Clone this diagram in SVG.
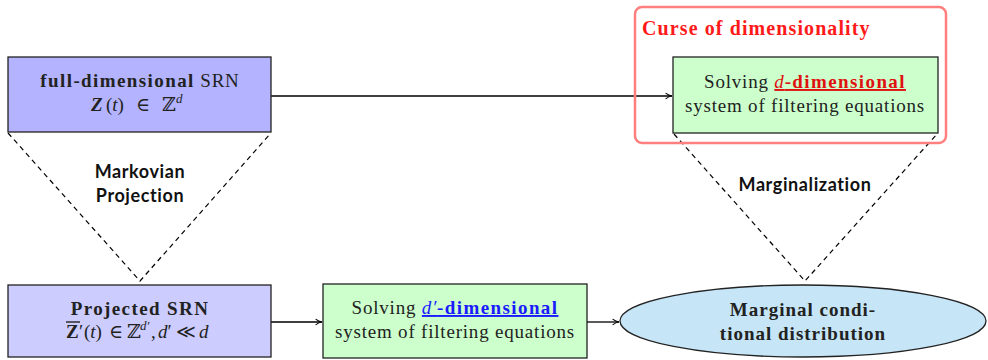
<svg xmlns="http://www.w3.org/2000/svg" width="988" height="360" viewBox="0 0 988 360">
<defs>
<marker id="arr" viewBox="0 0 10 10" refX="9" refY="5" markerWidth="8" markerHeight="8" orient="auto" markerUnits="userSpaceOnUse">
<path d="M1,1.5 Q5,4.5 9,5 Q5,5.5 1,8.5" fill="none" stroke="#000" stroke-width="1.3"/>
</marker>
<style>
.box{stroke:#222;stroke-width:1.3}
.serif{font-family:"Liberation Serif","DejaVu Serif",serif;font-size:19px;fill:#222;letter-spacing:0.8px}
.b{font-weight:bold;letter-spacing:1.4px}
.sans{font-family:Lato,"Open Sans",sans-serif;font-weight:bold;font-size:18px;fill:#111;letter-spacing:0.6px}
.dash{stroke:#000;stroke-width:1.2;stroke-dasharray:5,4;fill:none}
.conn{stroke:#000;stroke-width:1.3;fill:none}
.m{letter-spacing:0}
</style>
</defs>

<g id="connectors">
<line class="conn" x1="271" y1="96" x2="672" y2="96" marker-end="url(#arr)"/>
<line class="conn" x1="271" y1="322" x2="322" y2="322" marker-end="url(#arr)"/>
<line class="conn" x1="587" y1="322" x2="619" y2="322" marker-end="url(#arr)"/>
<polyline class="dash" points="8,133 140,281 271,133"/>
<polyline class="dash" points="674,134 805,281 937,134"/>
</g>

<g id="curse">
<rect x="635" y="7" width="311" height="136" rx="7" fill="none" stroke="#ff7f7f" stroke-width="2.5"/>
<text x="642" y="35" class="serif b" style="fill:#ff1a1a;font-size:20px;letter-spacing:1.1px">Curse of dimensionality</text>
</g>

<g id="full">
<rect class="box" x="8" y="57" width="263" height="75" fill="#b3b3ff"/>
<text x="140" y="87" class="serif" text-anchor="middle"><tspan class="b">full-dimensional</tspan> SRN</text>
<text y="111" class="serif m"><tspan x="91" font-weight="bold" font-style="italic">Z</tspan><tspan x="106">(</tspan><tspan font-style="italic">t</tspan><tspan>)</tspan><tspan x="136">∈</tspan><tspan x="162">ℤ</tspan><tspan x="176" font-size="13" dy="-8" font-style="italic">d</tspan></text>
</g>

<g id="projected">
<rect class="box" x="8" y="285" width="263" height="72" fill="#ccccff"/>
<text x="140" y="315" class="serif b" text-anchor="middle">Projected SRN</text>
<line x1="66" y1="322" x2="80" y2="322" stroke="#222" stroke-width="1.4"/>
<text y="338" class="serif m"><tspan x="66" font-weight="bold">Z</tspan><tspan x="79">′</tspan><tspan x="84">(</tspan><tspan font-style="italic">t</tspan><tspan>)</tspan><tspan x="109">∈</tspan><tspan x="127">ℤ</tspan><tspan x="140" font-size="13" dy="-8" font-style="italic">d′</tspan><tspan x="151" dy="8">,</tspan><tspan x="158" font-style="italic">d</tspan><tspan>′</tspan><tspan x="176">≪</tspan><tspan x="199" font-style="italic">d</tspan></text>
</g>

<g id="solve-d">
<rect class="box" x="673" y="57" width="265" height="76" fill="#ccffcc"/>
<text x="805" y="88" class="serif" text-anchor="middle">Solving <tspan fill="#e01010" text-decoration="underline"><tspan font-style="italic">d</tspan><tspan class="b">-dimensional</tspan></tspan></text>
<text x="805" y="112" class="serif" text-anchor="middle">system of filtering equations</text>
</g>

<g id="solve-dprime">
<rect class="box" x="323" y="284" width="264" height="74" fill="#ccffcc"/>
<text x="455" y="314" class="serif" text-anchor="middle">Solving <tspan fill="#1a1aff" text-decoration="underline"><tspan font-style="italic">d′</tspan><tspan class="b">-dimensional</tspan></tspan></text>
<text x="455" y="338" class="serif" text-anchor="middle">system of filtering equations</text>
</g>

<g id="marginal">
<ellipse class="box" cx="803" cy="321" rx="183" ry="36" fill="#c6e6f7"/>
<text x="803" y="316" class="serif b" text-anchor="middle" style="letter-spacing:1px">Marginal condi-</text>
<text x="803" y="340" class="serif b" text-anchor="middle" style="letter-spacing:1px">tional distribution</text>
</g>

<g id="labels">
<text x="140" y="178" class="sans" text-anchor="middle">Markovian</text>
<text x="140" y="202" class="sans" text-anchor="middle">Projection</text>
<text x="805" y="191" class="sans" text-anchor="middle">Marginalization</text>
</g>
</svg>
